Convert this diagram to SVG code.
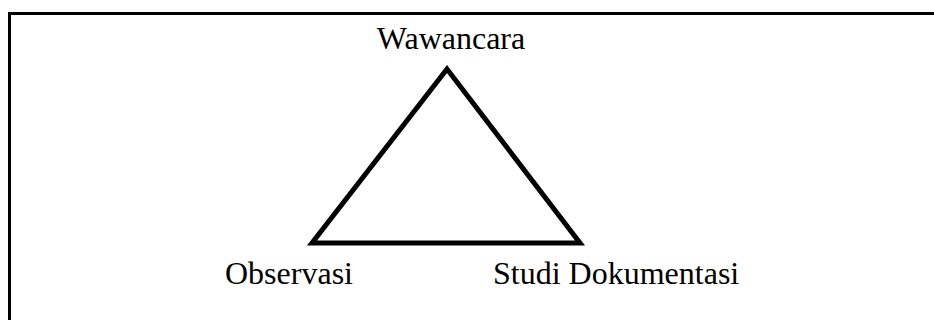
<svg xmlns="http://www.w3.org/2000/svg" width="934" height="320" viewBox="0 0 934 320">
<style>
.lbl{font-family:"Liberation Serif","Times New Roman",serif;font-size:32px;fill:#000}
.edge{fill:none;stroke:#000;stroke-width:5;stroke-linejoin:miter}
</style>
<rect x="0" y="0" width="934" height="320" fill="#fff"/>
<rect x="9.5" y="13.5" width="1000" height="400" fill="none" stroke="#000" stroke-width="3"/>
<g id="connectors">
<polygon class="edge" points="447,69 312,243 580,243"/>
</g>
<g id="wawancara"><text class="lbl" x="451" y="49" text-anchor="middle">Wawancara</text></g>
<g id="observasi"><text class="lbl" x="225" y="284">Observasi</text></g>
<g id="studi"><text class="lbl" x="493" y="284">Studi Dokumentasi</text></g>
</svg>
